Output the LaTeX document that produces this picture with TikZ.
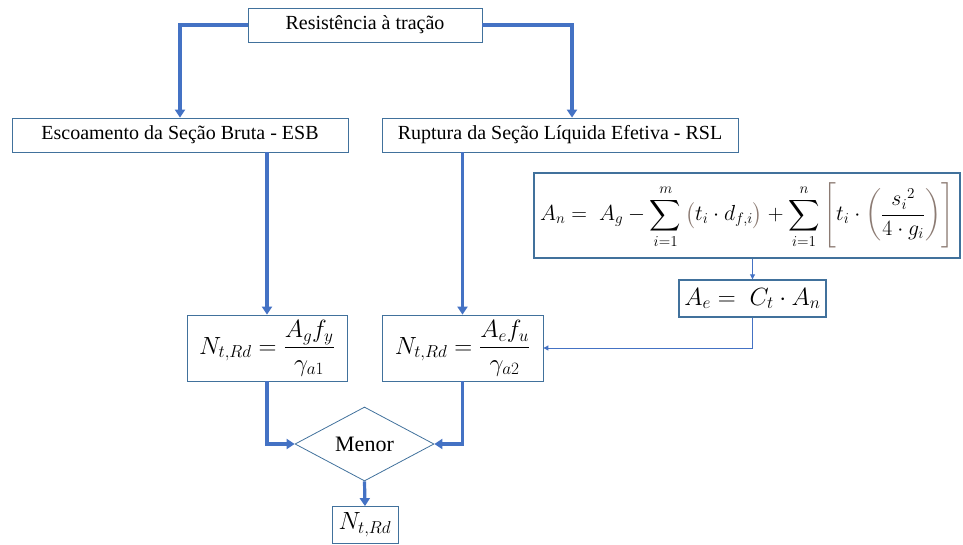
\documentclass[tikz,border=0pt]{standalone}
\usepackage{fontspec}
\setmainfont{Liberation Serif}
\usepackage{amsmath}
\usepackage{graphicx}
\usetikzlibrary{shapes.geometric,arrows.meta}
\definecolor{lineblue}{HTML}{4472C4}
\definecolor{boxblue}{HTML}{41719C}
\definecolor{brk}{HTML}{8C7B73}
\newcommand{\dlm}[1]{{\color{brk}#1}}
\begin{document}
\begin{tikzpicture}[x=1pt,y=-1pt,
  box/.style={draw=boxblue,line width=0.8pt,fill=white,inner sep=0pt,font=\fontsize{20}{24}\selectfont},
  mathbox/.style={box,font=\fontsize{25}{30}\selectfont},
  thickarrow/.style={draw=lineblue,line width=3.2pt,-{Triangle[width=10pt,length=8pt]}},
  thinarrow/.style={draw=lineblue,line width=0.9pt,-{Triangle[width=5pt,length=5pt]}}]
\useasboundingbox (0,0) rectangle (963,545);

\node[box,minimum width=234pt,minimum height=34pt] (title) at (365,25) {Resistência à tração};
\node[box,minimum width=336pt,minimum height=34pt] (esb) at (180,135) {Escoamento da Seção Bruta - ESB};
\node[box,minimum width=356pt,minimum height=34pt] (rsl) at (560,135) {Ruptura da Seção Líquida Efetiva - RSL};

\node[draw=boxblue,line width=2pt,fill=white,inner sep=0pt,minimum width=426pt,minimum height=85pt,font=\fontsize{20}{24}\selectfont] (an) at (747,215.5)
  {\resizebox{414pt}{!}{$\displaystyle A_n =\; A_g - \sum_{i=1}^{m}\dlm{\bigl(}t_i\cdot d_{f,i}\dlm{\bigr)} + \sum_{i=1}^{n}\dlm{\Biggl[}t_i\cdot\dlm{\biggl(}\frac{{s_i}^2}{4\cdot g_i}\dlm{\biggr)}\dlm{\Biggr]}$}};
\node[mathbox,line width=1.4pt,minimum width=147pt,minimum height=37pt] (ae) at (752.5,298.5) {$A_e =\; C_t\cdot A_n$};

\node[mathbox,minimum width=160pt,minimum height=66pt] (n1) at (267,348) {$N_{t,Rd} = \dfrac{A_g f_y}{\gamma_{a1}}$};
\node[mathbox,minimum width=161pt,minimum height=66pt] (n2) at (462.5,348) {$N_{t,Rd} = \dfrac{A_e f_u}{\gamma_{a2}}$};

\node[diamond,draw=boxblue,line width=0.8pt,inner sep=0pt,minimum width=139pt,minimum height=74pt,font=\fontsize{22}{26}\selectfont] (menor) at (364.5,444) {Menor};
\node[mathbox,minimum width=66pt,minimum height=37pt] (final) at (365,525) {$N_{t,Rd}$};

\draw[thickarrow] (title.west) -| (esb.north);
\draw[thickarrow] (title.east) -| ([xshift=12pt]rsl.north);
\draw[thickarrow] (n1.north |- esb.south) -- (n1.north);
\draw[thickarrow] (n2.north |- rsl.south) -- (n2.north);
\draw[thinarrow] (ae.north |- an.south) -- (ae.north);
\draw[thinarrow] (ae.south) |- (n2.east);
\draw[thickarrow] (n1.south) |- (menor.west);
\draw[thickarrow] (n2.south) |- (menor.east);
\draw[thickarrow] (menor.south) -- (final.north);
\end{tikzpicture}
\end{document}
